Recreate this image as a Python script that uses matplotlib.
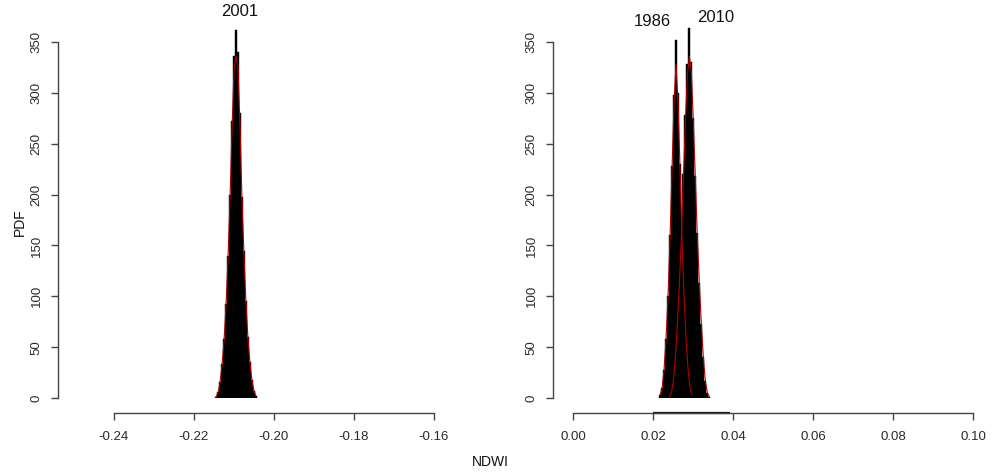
import numpy as np
import matplotlib
matplotlib.use("Agg")
import matplotlib.pyplot as plt
from matplotlib.transforms import blended_transform_factory

plt.rcParams['font.family'] = ['Liberation Sans', 'DejaVu Sans']

# ---- data ----
bin_width = 0.0005

# 2001 (left panel)
centre_2001 = -0.2095
hist_2001 = [1, 6, 16, 33, 58, 92, 140, 200, 272, 336, 362, 340, 280, 198, 145, 95, 60, 35, 18, 7, 2]
fit_2001 = [1, 5, 15, 32, 56, 90, 137, 196, 264, 322, 336, 325, 268, 194, 140, 93, 58, 34, 17, 7, 2]

# 1986 (right panel)
centre_1986 = 0.02575
hist_1986 = [3, 10, 28, 58, 100, 160, 228, 298, 352, 300, 230, 158, 102, 60, 30, 11, 3]
fit_1986 = [3, 9, 27, 57, 99, 157, 224, 290, 328, 292, 226, 156, 100, 59, 29, 10, 3]

# 2010 (right panel)
centre_2010 = 0.0291
hist_2010 = [1, 5, 18, 42, 75, 115, 160, 220, 278, 328, 364, 330, 275, 218, 162, 113, 73, 40, 17, 5, 1]
fit_2010 = [1, 5, 17, 40, 73, 113, 158, 216, 272, 318, 336, 320, 270, 214, 158, 111, 72, 39, 16, 5, 1]

left_xticks = [-0.24, -0.22, -0.20, -0.18, -0.16]
left_xticklabels = ["-0.24", "-0.22", "-0.20", "-0.18", "-0.16"]
right_xticks = [0.00, 0.02, 0.04, 0.06, 0.08, 0.10]
right_xticklabels = ["0.00", "0.02", "0.04", "0.06", "0.08", "0.10"]
yticks = [0, 50, 100, 150, 200, 250, 300, 350]


def centres(c, values):
    n = len(values)
    return c + (np.arange(n) - (n - 1) / 2) * bin_width


W, H = 1000, 472
fig = plt.figure(figsize=(W / 100, H / 100), dpi=100)

px_per_x = 4000.0
y0_px = 398.0
ytop = 380.0
px_per_y = (398.0 - 42.0) / 350.0
ax_h_px = ytop * px_per_y
ax_bottom = 1 - y0_px / H
ax_height = ax_h_px / H

# left axes: y spine at px 58, -0.24 at px 114
l_left_px, l_right_px = 58, 470
ax1 = fig.add_axes([l_left_px / W, ax_bottom, (l_right_px - l_left_px) / W, ax_height])
x1_min = -0.24 - (114 - l_left_px) / px_per_x
ax1.set_xlim(x1_min, x1_min + (l_right_px - l_left_px) / px_per_x)

r_left_px, r_right_px = 553, 990
ax2 = fig.add_axes([r_left_px / W, ax_bottom, (r_right_px - r_left_px) / W, ax_height])
x2_min = 0.0 - (573 - r_left_px) / px_per_x
ax2.set_xlim(x2_min, x2_min + (r_right_px - r_left_px) / px_per_x)

axis_col = '#444444'
text_col = '#2a2a2a'
red = '#b00000'

for ax in (ax1, ax2):
    ax.set_ylim(0, ytop)
    ax.patch.set_alpha(0)
    for s in ('top', 'right'):
        ax.spines[s].set_visible(False)
    ax.spines['left'].set_position(('axes', 0))
    ax.spines['bottom'].set_position(('outward', 15 * 0.72))
    ax.spines['left'].set_bounds(0, 350)
    ax.spines['left'].set_color(axis_col)
    ax.spines['bottom'].set_color(axis_col)
    ax.spines['left'].set_linewidth(1.0)
    ax.spines['bottom'].set_linewidth(1.0)
    ax.set_yticks(yticks)
    ax.set_yticklabels([str(v) for v in yticks], rotation=90, va='center')
    ax.tick_params(axis='both', direction='out', length=5, width=1.0,
                   color=axis_col, labelcolor=text_col, labelsize=9.5)
    ax.tick_params(axis='y', pad=6)
    ax.tick_params(axis='x', pad=8)

ax1.set_xticks(left_xticks)
ax1.set_xticklabels(left_xticklabels)
ax1.spines['bottom'].set_bounds(-0.24, -0.16)
ax2.set_xticks(right_xticks)
ax2.set_xticklabels(right_xticklabels)
ax2.spines['bottom'].set_bounds(0.0, 0.10)

# histograms
x01 = centres(centre_2001, hist_2001)
ax1.bar(x01, hist_2001, width=bin_width, color='black', edgecolor='black', linewidth=0.3)
ax1.plot(centres(centre_2001, fit_2001), fit_2001, color=red, lw=0.8)

x86 = centres(centre_1986, hist_1986)
x10 = centres(centre_2010, hist_2010)
ax2.bar(x86, hist_1986, width=bin_width, color='black', edgecolor='black', linewidth=0.3)
ax2.bar(x10, hist_2010, width=bin_width, color='black', edgecolor='black', linewidth=0.3)
ax2.plot(centres(centre_1986, fit_1986), fit_1986, color=red, lw=0.8)
ax2.plot(centres(centre_2010, fit_2010), fit_2010, color=red, lw=0.8)

# dark segment on right x-axis
tr = blended_transform_factory(ax2.transData, ax2.transAxes)
ax2.plot([0.02, 0.0393], [-15 / ax_h_px] * 2, color='#111111', lw=1.6,
         transform=tr, clip_on=False, solid_capstyle='butt')

# labels
fig.text(240 / W, 1 - 12 / H, "2001", ha='center', va='center', fontsize=12, color='#111111')
fig.text(652 / W, 1 - 22 / H, "1986", ha='center', va='center', fontsize=12, color='#111111')
fig.text(716 / W, 1 - 17 / H, "2010", ha='center', va='center', fontsize=12, color='#111111')
fig.text(20 / W, 1 - 222 / H, "PDF", rotation=90, ha='center', va='center', fontsize=10, color='#111111')
fig.text(490 / W, 1 - 462 / H, "NDWI", ha='center', va='center', fontsize=10, color='#111111')

fig.savefig("out.png", dpi=100)
